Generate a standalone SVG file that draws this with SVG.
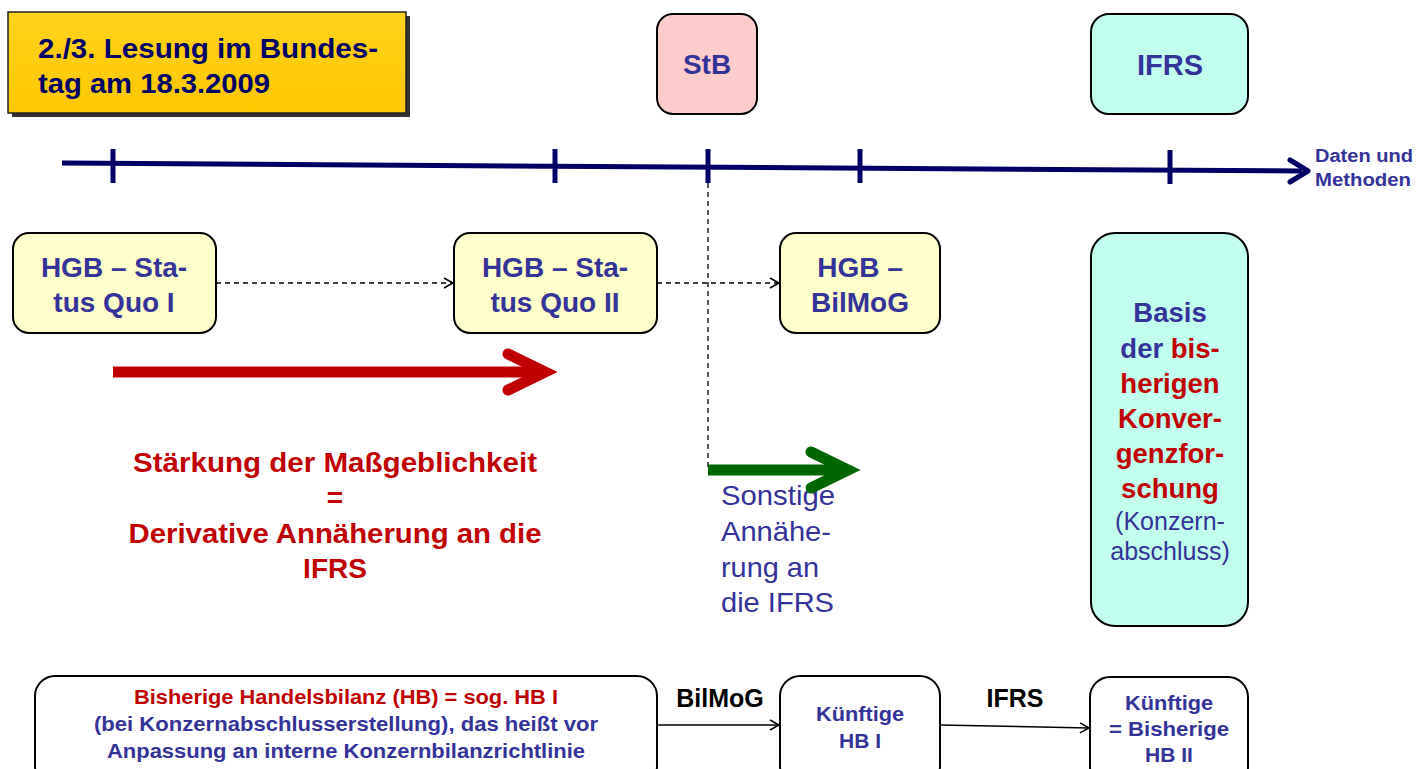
<svg xmlns="http://www.w3.org/2000/svg" width="1427" height="769" viewBox="0 0 1427 769">
<defs>
<style>
text{font-family:"Liberation Sans",Arial,sans-serif;}
.b{font-weight:bold;}
.blue{fill:#333399;}
.red{fill:#C00000;}
.node{stroke:#000;stroke-width:2;}
.yel{fill:#FFFFCC;}
.dash{stroke:#000;stroke-width:1.3;stroke-dasharray:5,4;fill:none;}
.solid{stroke:#000;stroke-width:1.5;fill:none;}
</style>
<marker id="open" markerWidth="12" markerHeight="12" refX="10" refY="6" orient="auto" markerUnits="userSpaceOnUse">
<path d="M1,1 L10,6 L1,11" fill="none" stroke="#000" stroke-width="1.5"/>
</marker>
<linearGradient id="gold" x1="0" y1="0" x2="0" y2="1">
<stop offset="0" stop-color="#FFD21A"/>
<stop offset="1" stop-color="#FFC800"/>
</linearGradient>
</defs>
<rect width="1427" height="769" fill="#fff"/>

<g id="title">
<rect x="12" y="16" width="398" height="101" fill="#333"/>
<rect x="8" y="12" width="398" height="101" fill="url(#gold)" stroke="#222" stroke-width="1.5"/>
<text x="38" y="58" class="b" font-size="28" fill="#000066" textLength="340" lengthAdjust="spacingAndGlyphs">2./3. Lesung im Bundes-</text>
<text x="38" y="93" class="b" font-size="28" fill="#000066" textLength="232" lengthAdjust="spacingAndGlyphs">tag am 18.3.2009</text>
</g>

<g id="timeline">
<line x1="62" y1="163" x2="1302" y2="171" stroke="#000066" stroke-width="5"/>
<path d="M1290,160 L1308,171 L1290,182" fill="none" stroke="#000066" stroke-width="5" stroke-linecap="round" stroke-linejoin="round"/>
<g stroke="#000066" stroke-width="5">
<line x1="113" y1="149" x2="113" y2="183"/>
<line x1="555" y1="149" x2="555" y2="183"/>
<line x1="708" y1="149" x2="708" y2="183"/>
<line x1="860" y1="149" x2="860" y2="183"/>
<line x1="1170" y1="150" x2="1170" y2="184"/>
</g>
<text x="1315" y="162" class="b blue" font-size="18" textLength="98" lengthAdjust="spacingAndGlyphs">Daten und</text>
<text x="1315" y="186" class="b blue" font-size="18" textLength="96" lengthAdjust="spacingAndGlyphs">Methoden</text>
</g>

<g id="stb">
<rect x="657" y="14" width="100" height="100" rx="16" fill="#FFCCCC" class="node"/>
<text x="707" y="74" text-anchor="middle" class="b blue" font-size="28">StB</text>
</g>

<g id="ifrs">
<rect x="1091" y="14" width="157" height="100" rx="18" fill="#C2FFEE" class="node"/>
<text x="1170" y="75" text-anchor="middle" class="b blue" font-size="29">IFRS</text>
</g>

<g id="hgb1">
<rect x="13" y="233" width="203" height="100" rx="16" class="node yel"/>
<text x="114" y="277" text-anchor="middle" class="b blue" font-size="28">HGB – Sta-</text>
<text x="114" y="312" text-anchor="middle" class="b blue" font-size="28">tus Quo I</text>
</g>

<g id="hgb2">
<rect x="454" y="233" width="203" height="100" rx="16" class="node yel"/>
<text x="555" y="277" text-anchor="middle" class="b blue" font-size="28">HGB – Sta-</text>
<text x="555" y="312" text-anchor="middle" class="b blue" font-size="28">tus Quo II</text>
</g>

<g id="hgb3">
<rect x="780" y="233" width="160" height="100" rx="16" class="node yel"/>
<text x="860" y="277" text-anchor="middle" class="b blue" font-size="28">HGB –</text>
<text x="860" y="312" text-anchor="middle" class="b blue" font-size="28">BilMoG</text>
</g>

<g id="basis">
<rect x="1091" y="233" width="157" height="393" rx="24" fill="#C2FFEE" class="node"/>
<text x="1170" y="322" text-anchor="middle" class="b blue" font-size="27.5">Basis</text>
<text x="1170" y="358" text-anchor="middle" class="b" font-size="27.5"><tspan class="blue">der </tspan><tspan class="red">bis-</tspan></text>
<text x="1170" y="393" text-anchor="middle" class="b red" font-size="27.5">herigen</text>
<text x="1170" y="428" text-anchor="middle" class="b red" font-size="27.5">Konver-</text>
<text x="1170" y="463" text-anchor="middle" class="b red" font-size="27.5">genzfor-</text>
<text x="1170" y="498" text-anchor="middle" class="b red" font-size="27.5">schung</text>
<text x="1170" y="530" text-anchor="middle" class="blue" font-size="25">(Konzern-</text>
<text x="1170" y="560" text-anchor="middle" class="blue" font-size="25">abschluss)</text>
</g>

<g id="redtext">
<text x="335" y="472" text-anchor="middle" class="b red" font-size="28" textLength="404" lengthAdjust="spacingAndGlyphs">Stärkung der Maßgeblichkeit</text>
<text x="335" y="507" text-anchor="middle" class="b red" font-size="28">=</text>
<text x="335" y="543" text-anchor="middle" class="b red" font-size="28" textLength="413" lengthAdjust="spacingAndGlyphs">Derivative Annäherung an die</text>
<text x="335" y="578" text-anchor="middle" class="b red" font-size="28">IFRS</text>
</g>

<g id="sonstige">
<text x="721" y="505" class="blue" font-size="28" textLength="114" lengthAdjust="spacingAndGlyphs">Sonstige</text>
<text x="721" y="541" class="blue" font-size="28" textLength="110" lengthAdjust="spacingAndGlyphs">Annähe-</text>
<text x="721" y="577" class="blue" font-size="28" textLength="98" lengthAdjust="spacingAndGlyphs">rung an</text>
<text x="721" y="612" class="blue" font-size="28" textLength="113" lengthAdjust="spacingAndGlyphs">die IFRS</text>
</g>

<g id="hb1">
<rect x="35" y="676" width="622" height="110" rx="20" fill="#fff" class="node"/>
<text x="346" y="704" text-anchor="middle" class="b red" font-size="20" textLength="424" lengthAdjust="spacingAndGlyphs">Bisherige Handelsbilanz (HB) = sog. HB I</text>
<text x="346" y="731" text-anchor="middle" class="b blue" font-size="20" textLength="504" lengthAdjust="spacingAndGlyphs">(bei Konzernabschlusserstellung), das heißt vor</text>
<text x="346" y="758" text-anchor="middle" class="b blue" font-size="20" textLength="478" lengthAdjust="spacingAndGlyphs">Anpassung an interne Konzernbilanzrichtlinie</text>
</g>

<g id="hb2">
<rect x="780" y="676" width="160" height="110" rx="20" fill="#fff" class="node"/>
<text x="860" y="721" text-anchor="middle" class="b blue" font-size="21" textLength="88" lengthAdjust="spacingAndGlyphs">Künftige</text>
<text x="860" y="748" text-anchor="middle" class="b blue" font-size="21">HB I</text>
</g>

<g id="hb3">
<rect x="1090" y="677" width="158" height="110" rx="20" fill="#fff" class="node"/>
<text x="1169" y="710" text-anchor="middle" class="b blue" font-size="21" textLength="88" lengthAdjust="spacingAndGlyphs">Künftige</text>
<text x="1169" y="736" text-anchor="middle" class="b blue" font-size="21" textLength="120" lengthAdjust="spacingAndGlyphs">= Bisherige</text>
<text x="1169" y="762" text-anchor="middle" class="b blue" font-size="21">HB II</text>
</g>

<g id="connectors">
<line x1="216" y1="283" x2="453" y2="283" class="dash" marker-end="url(#open)"/>
<line x1="657" y1="283" x2="779" y2="283" class="dash" marker-end="url(#open)"/>
<line x1="708" y1="183" x2="708" y2="470" class="dash"/>
<line x1="113" y1="372" x2="540" y2="372" stroke="#C00000" stroke-width="11"/>
<path d="M508,354 L545,372 L508,390" fill="none" stroke="#C00000" stroke-width="11" stroke-linecap="round" stroke-linejoin="miter"/>
<line x1="708" y1="470" x2="843" y2="470" stroke="#006600" stroke-width="11"/>
<path d="M811,452 L848,470 L811,488" fill="none" stroke="#006600" stroke-width="11" stroke-linecap="round" stroke-linejoin="miter"/>
<line x1="657" y1="725" x2="779" y2="725" class="solid" marker-end="url(#open)"/>
<line x1="940" y1="725" x2="1089" y2="728" class="solid" marker-end="url(#open)"/>
<text x="720" y="707" text-anchor="middle" class="b" font-size="25">BilMoG</text>
<text x="1015" y="707" text-anchor="middle" class="b" font-size="25">IFRS</text>
</g>
</svg>
